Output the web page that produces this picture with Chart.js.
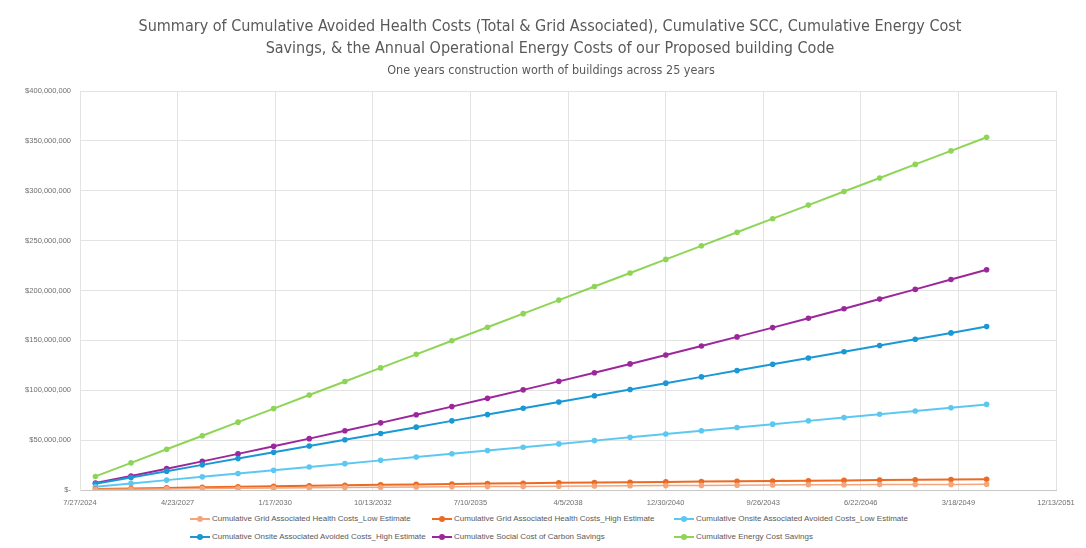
<!DOCTYPE html>
<html>
<head>
<meta charset="utf-8">
<script src="https://cdn.jsdelivr.net/npm/chart.js@4"></script>
<style>
  html, body { margin: 0; padding: 0; background: #fff; }
  #wrap { position: relative; width: 1086px; height: 548px; }
  #box { position: absolute; left: 0; top: 0; width: 1086px; height: 512px; }
  #legend {
    position: absolute; left: 0; top: 514px; width: 1086px;
    font-family: "Liberation Sans", Arial, sans-serif; font-size: 8px; color: #595959;
  }
  .lg-item { position: absolute; display: flex; align-items: center; white-space: nowrap; }
  .lg-swatch { position: relative; width: 20px; height: 8px; margin-right: 2px; }
  .lg-swatch .ln { position: absolute; left: 0; right: 0; top: 3px; height: 2px; }
  .lg-swatch .dt { position: absolute; left: 7px; top: 1px; width: 6px; height: 6px; border-radius: 50%; }
</style>
</head>
<body>
<div id="wrap">
  <div id="box"><canvas id="chart"></canvas></div>
  <div id="legend"></div>
</div>
<script>
// ── Data (values in $ millions, one point per year) ─────────
const years = [2025, 2026, 2027, 2028, 2029, 2030, 2031, 2032, 2033, 2034, 2035, 2036, 2037,
               2038, 2039, 2040, 2041, 2042, 2043, 2044, 2045, 2046, 2047, 2048, 2049, 2050];

const gridHealthLow  = [0.5, 0.8, 1.1, 1.4, 1.7, 2.0, 2.3, 2.6, 2.8, 3.0, 3.2, 3.4, 3.6,
                        3.8, 4.0, 4.2, 4.4, 4.6, 4.8, 5.0, 5.2, 5.3, 5.4, 5.5, 5.6, 5.7];
const gridHealthHigh = [0.9, 1.5, 2.1, 2.7, 3.2, 3.7, 4.2, 4.7, 5.2, 5.6, 6.0, 6.4, 6.8,
                        7.2, 7.5, 7.8, 8.1, 8.4, 8.7, 9.0, 9.3, 9.6, 9.9, 10.2, 10.5, 10.8];
const onsiteLow      = [3.3, 6.6, 9.9, 13.2, 16.5, 19.8, 23.1, 26.4, 29.7, 33.0, 36.3, 39.6, 42.9,
                        46.2, 49.5, 52.8, 56.1, 59.4, 62.7, 66.0, 69.3, 72.6, 75.9, 79.2, 82.5, 85.8];
const onsiteHigh     = [6.3, 12.6, 18.9, 25.2, 31.5, 37.8, 44.1, 50.4, 56.7, 63.0, 69.3, 75.6, 81.9,
                        88.2, 94.5, 100.8, 107.1, 113.4, 119.7, 126.0, 132.3, 138.6, 144.9, 151.2, 157.5, 163.8];
const socialCarbon   = [7.0, 14.1, 21.4, 28.7, 36.2, 43.8, 51.5, 59.4, 67.3, 75.4, 83.6, 91.9, 100.4,
                        108.9, 117.6, 126.4, 135.3, 144.4, 153.5, 162.8, 172.2, 181.7, 191.4, 201.1, 211.0, 220.8];
const energySavings  = [13.6, 27.2, 40.8, 54.4, 68.0, 81.6, 95.2, 108.8, 122.4, 136.0, 149.6, 163.2, 176.8,
                        190.4, 204.0, 217.6, 231.2, 244.8, 258.4, 272.0, 285.6, 299.2, 312.8, 326.4, 340.0, 353.6];

const seriesNames = [
  'Cumulative Grid Associated Health Costs_Low Estimate',
  'Cumulative Grid Associated Health Costs_High Estimate',
  'Cumulative Onsite Associated Avoided Costs_Low Estimate',
  'Cumulative Onsite Associated Avoided Costs_High Estimate',
  'Cumulative Social Cost of Carbon Savings',
  'Cumulative Energy Cost Savings'
];
const seriesColors = ['#F5A57C', '#ED6A22', '#5CC8F2', '#1A98D5', '#9C279C', '#8ED557'];

const titleLines = ['Summary of Cumulative Avoided Health Costs (Total & Grid Associated), Cumulative SCC, Cumulative Energy Cost',
                    'Savings, & the Annual Operational Energy Costs of our Proposed building Code'];
const subtitleText = 'One years construction worth of buildings across 25 years';

// x axis: days since 7/27/2024, ticks every 1000 days
const AXIS_START = Date.UTC(2024, 6, 27);
const DAY = 86400000;
const xAxisMax = 10000;
const xAxisStep = 1000;
const yAxisMax = 400000000;
const yAxisStep = 50000000;

const xDays = years.map(y => (Date.UTC(y, 0, 1) - AXIS_START) / DAY);

function fmtDate(days) {
  const d = new Date(AXIS_START + days * DAY);
  return (d.getUTCMonth() + 1) + '/' + d.getUTCDate() + '/' + d.getUTCFullYear();
}

const allSeries = [gridHealthLow, gridHealthHigh, onsiteLow, onsiteHigh, socialCarbon, energySavings];

const datasets = allSeries.map((vals, i) => ({
  label: seriesNames[i],
  data: vals.map((v, j) => ({ x: xDays[j], y: v * 1e6 })),
  borderColor: seriesColors[i],
  backgroundColor: seriesColors[i],
  borderWidth: i === 0 ? 1.5 : 2,
  pointRadius: 2.8,
  pointBorderWidth: 0,
  pointHoverRadius: 3,
  tension: 0
}));

const tickFont = { family: '"Liberation Sans", Arial, sans-serif', size: 7.5 };
const titleFamily = '"Liberation Sans Narrow", "DejaVu Sans Condensed", Arial, sans-serif';

// Title drawn by hand so it can sit centred on the page, not on the plot box
const headerPlugin = {
  id: 'header',
  afterDraw(chart) {
    const ctx = chart.ctx;
    ctx.save();
    ctx.fillStyle = '#595959';
    ctx.textAlign = 'center';
    ctx.textBaseline = 'middle';
    ctx.font = '16px ' + titleFamily;
    titleLines.forEach((t, i) => ctx.fillText(t, 550, 27 + i * 22));
    ctx.font = '12.5px ' + titleFamily;
    ctx.fillText(subtitleText, 551, 71);
    ctx.restore();
  }
};

const chart = new Chart(document.getElementById('chart'), {
  type: 'line',
  data: { datasets },
  plugins: [headerPlugin],
  options: {
    responsive: true,
    maintainAspectRatio: false,
    animation: false,
    layout: { padding: { left: 8, right: 30, top: 91, bottom: 0 } },
    plugins: {
      legend: { display: false },
      tooltip: { enabled: false }
    },
    scales: {
      x: {
        type: 'linear',
        min: 0,
        max: xAxisMax,
        afterFit: s => { s.height = 22; },
        grid: { color: '#e3e3e3', drawTicks: false },
        border: { color: '#c8c8c8' },
        ticks: {
          stepSize: xAxisStep,
          color: '#6f6f6f',
          font: tickFont,
          padding: 8,
          maxRotation: 0,
          callback: v => fmtDate(v)
        }
      },
      y: {
        min: 0,
        max: yAxisMax,
        afterFit: s => { s.width = 72; },
        grid: { color: '#e3e3e3', drawTicks: false },
        border: { color: '#e3e3e3' },
        ticks: {
          stepSize: yAxisStep,
          color: '#6f6f6f',
          font: tickFont,
          padding: 9,
          callback: v => v === 0 ? '$-' : '$' + v.toLocaleString('en-US')
        }
      }
    }
  }
});

// ── HTML legend, 3 aligned columns ──────────────────────────
const legendCols = [190, 432, 674];
const legendRows = [0, 18];
const lg = document.getElementById('legend');
chart.data.datasets.forEach((ds, i) => {
  const item = document.createElement('div');
  item.className = 'lg-item';
  item.style.left = legendCols[i % 3] + 'px';
  item.style.top = legendRows[Math.floor(i / 3)] + 'px';
  item.innerHTML = `
    <div class="lg-swatch">
      <div class="ln" style="background:${ds.borderColor}"></div>
      <div class="dt" style="background:${ds.borderColor}"></div>
    </div>
    <span>${ds.label}</span>`;
  lg.appendChild(item);
});
</script>
</body>
</html>
